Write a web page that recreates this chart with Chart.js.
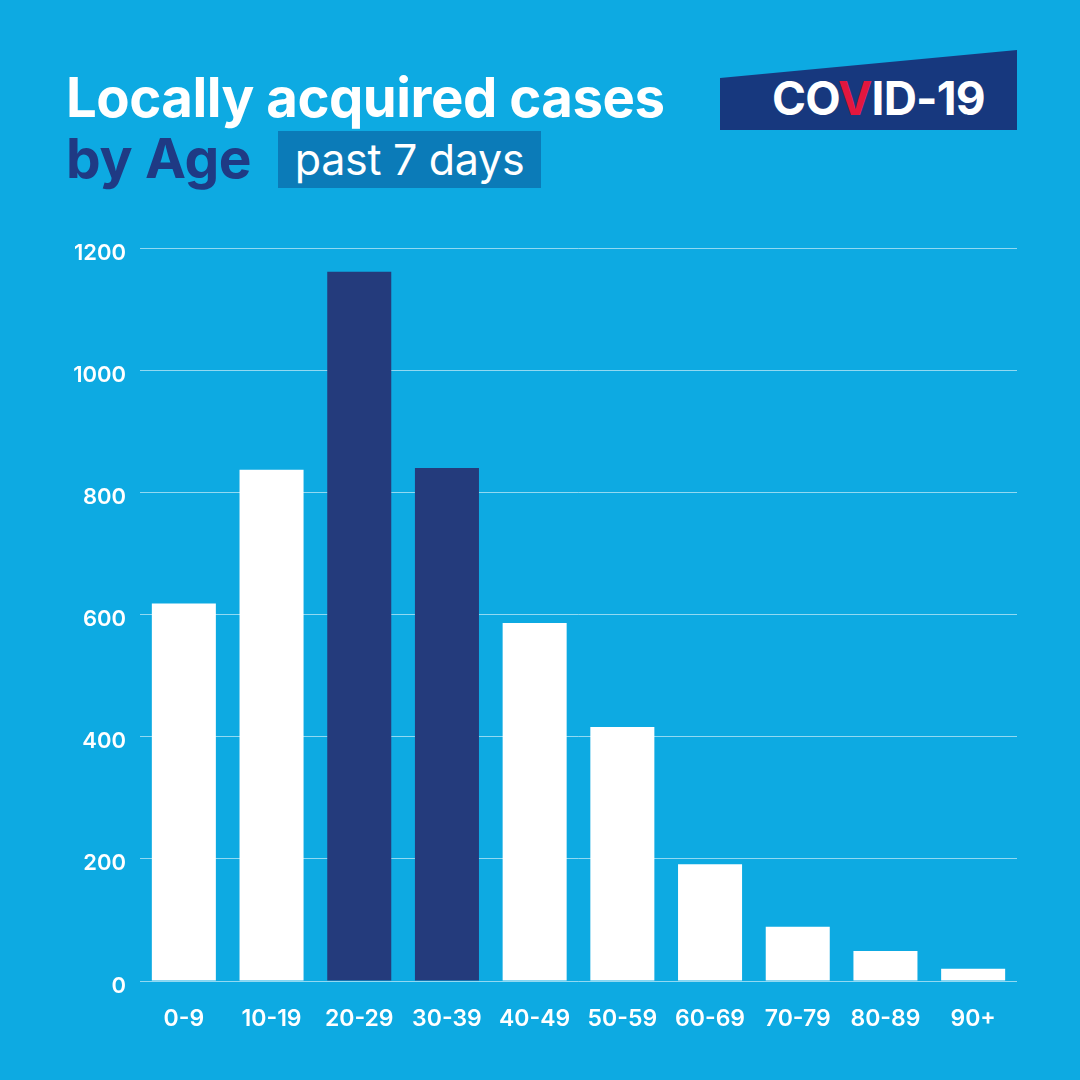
<!DOCTYPE html>
<html>
<head>
<meta charset="utf-8">
<script src="https://cdn.jsdelivr.net/npm/chart.js@4"></script>
<style>
  html, body { margin:0; padding:0; }
  body { width:1080px; height:1080px; background:#0DAAE2; position:relative; overflow:hidden; font-family:Inter, "Noto Sans", sans-serif; }
  #wrap { position:absolute; left:0; top:0; width:1080px; height:1080px; }
  .t1 { position:absolute; left:66px; top:70px; font-size:54.5px; font-weight:700; color:#fff; letter-spacing:-0.5px; line-height:1; }
  .t2 { position:absolute; left:66px; top:131px; font-size:55px; font-weight:700; color:#1F3A84; letter-spacing:-0.3px; line-height:1; }
  .pill { position:absolute; left:278px; top:131px; width:263px; height:57px; background:#0B7BB8; color:#fff; font-size:43px; line-height:57px; text-align:center; letter-spacing:-0.3px; }
  .logo { position:absolute; left:720px; top:50px; width:297px; height:80px; background:#17387E;
          clip-path:polygon(0 28px, 100% 0, 100% 100%, 0 100%); }
  .logo span.txt { position:absolute; left:52px; top:25px; font-size:46px; font-weight:700; color:#fff; letter-spacing:-0.8px; line-height:1; }
  .logo .v { color:#E3173E; }
</style>
</head>
<body>
<div id="wrap"><canvas id="c" width="1080" height="1080"></canvas></div>
<div class="t1">Locally acquired cases</div>
<div class="t2">by Age</div>
<div class="pill">past 7 days</div>
<div class="logo"><span class="txt">CO<span class="v">V</span>ID-19</span></div>
<script>
  /* values */
  const ageGroups = ["0-9","10-19","20-29","30-39","40-49","50-59","60-69","70-79","80-89","90+"];
  const cases = [618, 837, 1161, 840, 586, 416, 191, 89, 49, 20];
  const highlighted = ["20-29","30-39"];
  const yTicks = [0, 200, 400, 600, 800, 1000, 1200];

  const WHITE = "#FFFFFF", NAVY = "#243B7C";
  const barColors = ageGroups.map((g) => highlighted.includes(g) ? NAVY : WHITE);

  new Chart(document.getElementById("c"), {
    type: "bar",
    data: {
      labels: ageGroups,
      datasets: [{ data: cases, backgroundColor: barColors, borderWidth: 0, barPercentage: 0.73, categoryPercentage: 1 }]
    },
    options: {
      responsive: false,
      animation: false,
      layout: { padding: { top: 248, right: 63, bottom: 0, left: 0 } },
      plugins: { legend: { display: false }, tooltip: { enabled: false } },
      scales: {
        x: {
          grid: { display: false },
          border: { display: false },
          ticks: { color: WHITE, font: { family: "Inter", size: 23, weight: "600" }, padding: 16, maxRotation: 0, autoSkip: false },
          afterFit: (s) => { s.height = 99; }
        },
        y: {
          min: 0, max: 1200,
          afterBuildTicks: (s) => { s.ticks = yTicks.map((v) => ({ value: v })); },
          afterFit: (s) => { s.width = 140; },
          grid: { color: "rgba(255,255,255,0.55)", lineWidth: 1, drawTicks: false },
          border: { display: false },
          ticks: { color: WHITE, font: { family: "Inter", size: 22, weight: "600" }, padding: 14, labelOffset: 5,
                   callback: (v) => String(v) }
        }
      }
    }
  });
</script>
</body>
</html>
